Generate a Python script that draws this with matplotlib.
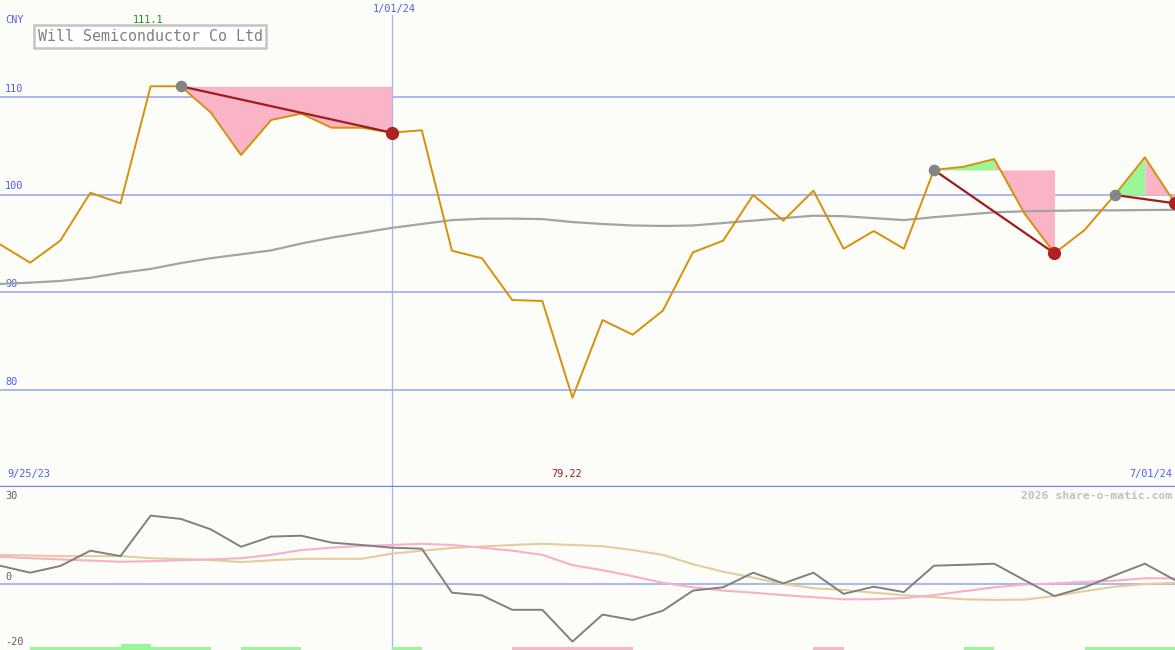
import numpy as np
import matplotlib
matplotlib.use("Agg")
from matplotlib import pyplot as plt

# Weekly close prices (CNY), 9/25/23 .. 7/01/24
price = [94.92, 93.04, 95.29, 100.2, 99.12, 111.1, 111.1, 108.4, 104.06, 107.65,
         108.3, 106.86, 106.86, 106.35, 106.6, 94.27, 93.49, 89.22, 89.12, 79.22,
         87.17, 85.67, 88.13, 94.1, 95.29, 99.97, 97.34, 100.41, 94.47, 96.28,
         94.47, 102.53, 102.87, 103.65, 98.1, 94.0, 96.39, 99.97, 103.83, 99.12]
# Slow moving average
ma = [90.86, 91.0, 91.17, 91.5, 92.0, 92.4, 93.0, 93.5, 93.9, 94.3,
      95.0, 95.6, 96.1, 96.6, 97.0, 97.4, 97.54, 97.55, 97.5, 97.2,
      97.0, 96.85, 96.8, 96.85, 97.1, 97.35, 97.6, 97.85, 97.8, 97.6,
      97.4, 97.7, 97.95, 98.2, 98.3, 98.35, 98.4, 98.4, 98.43, 98.45]
# Lower panel: momentum and its two smoothings
momentum = [6.0, 3.67, 5.9, 11.0, 9.2, 22.7, 21.6, 18.1, 12.3, 15.7,
            16.0, 13.7, 12.9, 12.0, 11.67, -3.0, -3.9, -8.7, -8.7, -19.3,
            -10.3, -12.1, -9.0, -2.3, -1.2, 3.67, 0.1, 3.67, -3.4, -1.0,
            -2.8, 6.0, 6.3, 6.67, 1.2, -4.1, -1.2, 2.8, 6.67, 1.2]
smooth_fast = [9.0, 8.5, 8.1, 7.7, 7.3, 7.5, 7.8, 8.1, 8.5, 9.6,
               11.2, 12.0, 12.6, 12.9, 13.3, 12.9, 12.0, 11.0, 9.6, 6.2,
               4.5, 2.5, 0.3, -1.2, -2.3, -3.0, -3.8, -4.5, -5.2, -5.2,
               -4.8, -3.8, -2.5, -1.2, -0.3, 0.1, 0.6, 1.0, 1.8, 1.8]
smooth_slow = [9.6, 9.4, 9.2, 9.2, 9.2, 8.5, 8.2, 7.9, 7.2, 7.8,
               8.3, 8.3, 8.3, 10.0, 11.0, 11.9, 12.4, 12.9, 13.3, 12.9,
               12.5, 11.2, 9.6, 6.5, 4.0, 2.0, -0.1, -1.5, -2.1, -3.0,
               -3.8, -4.5, -5.2, -5.4, -5.3, -4.1, -2.5, -1.0, -0.1, 0.3]
# Signal strip per week interval: 1 buy, 2 strong buy, -1 sell
signal = [0, 1, 1, 1, 2, 1, 1, 0, 1, 1, 0, 0, 0, 1, 0, 0, 0, -1, -1, -1,
          -1, 0, 0, 0, 0, 0, 0, -1, 0, 0, 0, 0, 1, 0, 0, 0, 1, 1, 1]
# Trend events: (start, peak, end) week indices
events = [(6, 6, 13), (31, 33, 35), (37, 38, 39)]

grid_levels = [80, 90, 100, 110]
low_labels = [30, 0, -20]
date_start, date_mid, date_end = "9/25/23", "1/01/24", "7/01/24"
mid_idx = 13

bg = "#fcfdf8"
blue_txt = "#5060e8"
grid_c = "#a4b2f0"
mono = "DejaVu Sans Mono"

x = np.arange(len(price))
p = np.array(price)

fig = plt.figure(figsize=(11.75, 6.5), dpi=100, facecolor=bg)
ax = fig.add_axes([0, 163 / 650, 1, 487 / 650])
ax2 = fig.add_axes([0, 0, 1, 163 / 650])
for a in (ax, ax2):
    a.set_facecolor(bg)
    a.set_xlim(0, len(price) - 1)
    a.set_xticks([])
    a.set_yticks([])
    for s in a.spines.values():
        s.set_visible(False)

ax.set_ylim(70.08, 119.93)
ax2.set_ylim(-22.1, 32.23)

# grid
for lv in grid_levels:
    ax.axhline(lv, color=grid_c, lw=1.3, zorder=1)
    ax.text(0.17, lv + 0.35, str(lv), color=blue_txt, fontsize=7.4,
            family=mono, va="bottom", ha="left")
ax.axvline(mid_idx, ymax=0.97, color=grid_c, lw=0.9, zorder=1)
ax2.axvline(mid_idx, color=grid_c, lw=0.9, zorder=1)
ax.axhline(70.08, color="#7080e8", lw=2.4, zorder=5, clip_on=False)

# trend event fills
for s0, pk, e in events:
    lvl = price[s0]
    seg = x[s0:pk + 1]
    if len(seg) > 1:
        ax.fill_between(seg, lvl, p[s0:pk + 1], color="#98f898", lw=0, zorder=2)
    seg = x[pk:e + 1]
    ax.fill_between(seg, lvl, p[pk:e + 1], color="#f9b4c8", lw=0, zorder=2)

ax.plot(x, ma, color="#a4a4a4", lw=1.6, zorder=3)
ax.plot(x, price, color="#d8900a", lw=1.4, zorder=4)

for s0, pk, e in events:
    ax.plot([s0, e], [price[s0], price[e]], color="#a01c1c", lw=1.6, zorder=5)
    ax.scatter([s0], [price[s0]], s=70, color="#848484", zorder=6, lw=0)
    ax.scatter([e], [price[e]], s=90, color="#b02020", zorder=6, lw=0)

# texts on main panel
imax = int(np.argmax(p))
imin = int(np.argmin(p))
ax.text(0.17, 117.9, "CNY", color=blue_txt, fontsize=7.4, family=mono, va="center")
ax.text(imax - 0.1, 117.9, f"{p.max():.1f}", color="#209020", fontsize=7.4,
        family=mono, va="center", ha="center")
ax.text(mid_idx + 0.1, 119.0, date_mid, color=blue_txt, fontsize=7.4, family=mono,
        va="center", ha="center")
ax.text(0.26, 70.9, date_start, color=blue_txt, fontsize=7.4, family=mono,
        va="bottom", ha="left")
ax.text(len(price) - 1.08, 70.9, date_end, color=blue_txt, fontsize=7.4,
        family=mono, va="bottom", ha="right")
ax.text(imin - 0.2, 70.9, f"{p.min():.2f}", color="#a01c1c", fontsize=7.4,
        family=mono, va="bottom", ha="center")
ax.text(1.25, 116.2, "Will Semiconductor Co Ltd", color="#808080", fontsize=10.8,
        family=mono, va="center", ha="left",
        bbox=dict(boxstyle="square,pad=0.25", fc="white", ec="#c4c4c4", lw=1.8))

# lower panel
ax2.axhline(0, color=grid_c, lw=1.3, zorder=1)
ax2.plot(x, smooth_slow, color="#e4cc9c", lw=1.5, zorder=2)
ax2.plot(x, smooth_fast, color="#f8b0c8", lw=1.5, zorder=3)
ax2.plot(x, momentum, color="#808080", lw=1.4, zorder=4)

sig = np.array(signal)
colors = ["#98f898" if v > 0 else "#f9b4c8" for v in sig]
ax2.bar(x[:-1], np.abs(sig), width=1, align="edge", bottom=-22.1,
        color=colors, lw=0, zorder=5)

ax2.text(0.17, 29.3, str(low_labels[0]), color="#606060", fontsize=7.4,
         family=mono, va="center")
ax2.text(0.17, 0.4, str(low_labels[1]), color="#606060", fontsize=7.4,
         family=mono, va="bottom")
ax2.text(0.17, -19.3, str(low_labels[2]), color="#606060", fontsize=7.4,
         family=mono, va="center")
ax2.text(len(price) - 1.1, 29.3, "2026 share-o-matic.com", color="#c0c0c0",
         fontsize=8.2, family=mono, weight="bold", va="center", ha="right")

fig.savefig("out.png", dpi=100, facecolor=bg)
